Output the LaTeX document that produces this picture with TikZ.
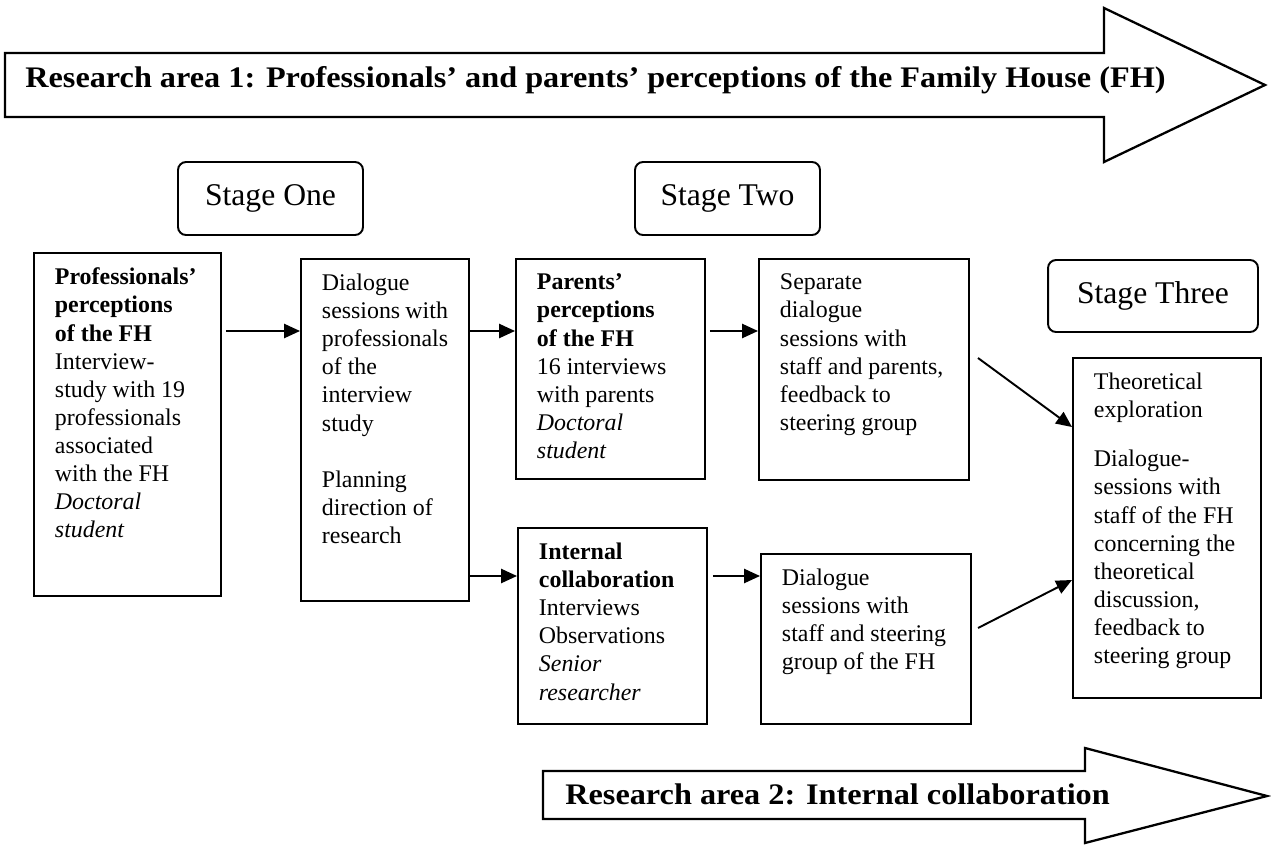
\documentclass[tikz,border=0pt]{standalone}
\usepackage{fontspec}
\setmainfont{Liberation Serif}
\usetikzlibrary{arrows.meta}
\newlength\pu
\setlength\pu{0.02cm}
\newcommand\bodyfont{\fontsize{13.6}{16}\selectfont}
\newcommand\stagefont{\fontsize{18}{21}\selectfont}
\newcommand\titlefont{\fontsize{17}{20}\selectfont\bfseries}
\tikzset{
  box/.style={draw, line width=1.1pt, inner xsep=0.42cm, inner ysep=0.3cm, anchor=north west, font=\bodyfont},
  stagebox/.style={draw, line width=1.1pt, rounded corners=0.16cm, font=\stagefont, inner sep=0pt},
  arr/.style={line width=1.1pt, -{Triangle[length=9pt,width=8pt]}},
  bigarrow/.style={draw, line width=1.3pt, line join=miter},
  titletext/.style={font=\titlefont, anchor=base west, inner sep=0pt}
}
\newcommand\tbox[6]{\node[box] (#1) at (#2,#3) {\parbox[t][\dimexpr#5\pu-30\pu\relax][t]{\dimexpr#4\pu-42\pu\relax}{#6}};}
\begin{document}
\begin{tikzpicture}[x=0.02cm, y=-0.02cm]
\useasboundingbox (0,0) rectangle (1271,845);
% big arrows
\draw[bigarrow] (5,53) -- (1104,53) -- (1104,8) -- (1265,85) -- (1104,162) -- (1104,117) -- (5,117) -- cycle;
\node[titletext] (ra1) at (25,87.5) {\scalebox{1.08}[1]{Research area 1: Professionals’ and parents’ perceptions of the Family House (FH)}};
\draw[bigarrow] (543,771) -- (1085,771) -- (1085,748) -- (1267,796) -- (1085,843) -- (1085,819) -- (543,819) -- cycle;
\node[titletext] (ra2) at (565,804) {\scalebox{1.08}[1]{Research area 2: Internal collaboration}};
% stages
\node[stagebox, minimum width=3.7cm, minimum height=1.46cm] (s1) at (270.5,198.5) {Stage One};
\node[stagebox, minimum width=3.7cm, minimum height=1.46cm] (s2) at (727.5,198.5) {Stage Two};
\node[stagebox, minimum width=4.2cm, minimum height=1.44cm] (s3) at (1153,296) {Stage Three};
% boxes
\tbox{A}{33}{252}{187}{343}{\textbf{Professionals’}\\\textbf{perceptions}\\\textbf{of the FH}\\Interview-\\study with 19\\professionals\\associated\\with the FH\\\textit{Doctoral}\\\textit{student}}
\tbox{B}{300}{258}{168}{342}{Dialogue\\sessions with\\professionals\\of the\\interview\\study\\[\baselineskip]Planning\\direction of\\research}
\tbox{C}{515}{258}{189}{220}{\textbf{Parents’}\\\textbf{perceptions}\\\textbf{of the FH}\\16 interviews\\with parents\\\textit{Doctoral}\\\textit{student}}
\tbox{D}{758}{258}{210}{221}{Separate\\dialogue\\sessions with\\staff and parents,\\feedback to\\steering group}
\tbox{E}{517}{527}{189}{196}{\textbf{Internal}\\\textbf{collaboration}\\Interviews\\Observations\\\textit{Senior}\\\textit{researcher}}
\tbox{F}{760}{553}{210}{170}{Dialogue\\sessions with\\staff and steering\\group of the FH}
\tbox{G}{1072}{357}{188}{340}{Theoretical\\exploration\\[12pt]Dialogue-\\sessions with\\staff of the FH\\concerning the\\theoretical\\discussion,\\feedback to\\steering group}
% connectors
\coordinate (r1) at (0,331);
\coordinate (r2) at (0,576);
\coordinate (dg) at (978,358);
\coordinate (gd) at (0,427);
\coordinate (fg) at (978,628);
\coordinate (gf) at (0,580);
\draw[arr, shorten <=0.08cm] (A.east |- r1) -- (B.west |- r1);
\draw[arr] (B.east |- r1) -- (C.west |- r1);
\draw[arr] (B.east |- r2) -- (E.west |- r2);
\draw[arr, shorten <=0.08cm] (C.east |- r1) -- (D.west |- r1);
\draw[arr, shorten <=0.1cm] (E.east |- r2) -- (F.west |- r2);
\draw[arr] (dg) -- (G.west |- gd);
\draw[arr] (fg) -- (G.west |- gf);
\end{tikzpicture}
\end{document}
